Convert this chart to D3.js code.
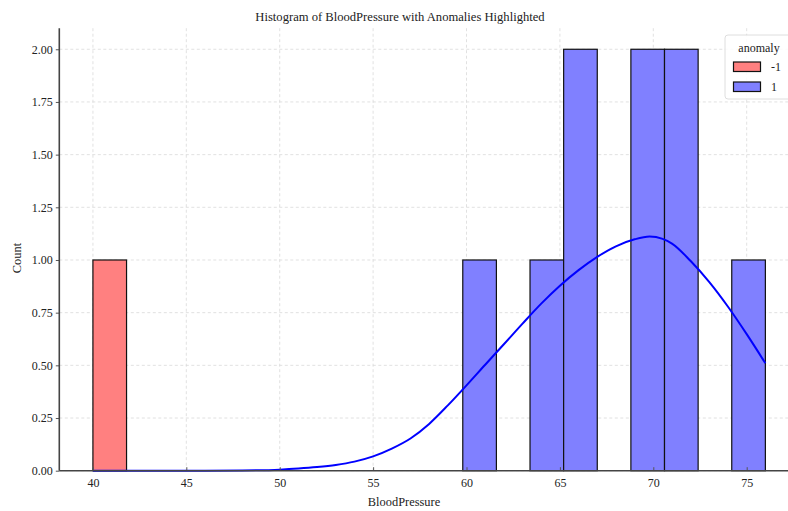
<!DOCTYPE html>
<html>
<head>
<meta charset="utf-8">
<script src="https://cdn.jsdelivr.net/npm/d3@7"></script>
<style>
  html, body { margin: 0; padding: 0; background: #fff; }
  svg { display: block; font-family: "Liberation Serif", "DejaVu Serif", serif; }
</style>
</head>
<body>
<svg id="chart" width="788" height="511"></svg>
<script>
// ---- data ----
const binWidth = 1.8;
const redBinStarts = [40];
const redCounts = [1];
const blueBinStarts = [59.8, 63.4, 65.2, 68.8, 70.6, 74.2];
const blueCounts = [1, 1, 2, 2, 2, 1];
const legendLabels = ["-1", "1"];
const xTicks = [40, 45, 50, 55, 60, 65, 70, 75];
const yTicks = [0, 0.25, 0.5, 0.75, 1.0, 1.25, 1.5, 1.75, 2.0];
// KDE curve for anomaly = 1
const kdeX = [40, 44, 46, 48, 50, 51, 52, 53, 54, 55, 56, 57, 58, 59, 60, 61, 62, 63, 64, 65, 66, 67, 68, 69, 69.8, 70.5, 71, 72, 73, 74, 75, 76];
const kdeY = [0, 0, 0, 0.001, 0.005, 0.010, 0.017, 0.027, 0.043, 0.068, 0.105, 0.153, 0.222, 0.310, 0.405, 0.503, 0.600, 0.698, 0.793, 0.878, 0.952, 1.015, 1.065, 1.098, 1.111, 1.100, 1.078, 0.995, 0.895, 0.778, 0.648, 0.510];

// ---- layout ----
const svg = d3.select("#chart");
const pLeft = 59.3, pRight = 799, pTop = 28.2, pBottom = 470.7;
const x = d3.scaleLinear().domain([38.2, 77.8]).range([pLeft, pRight]);
const y = d3.scaleLinear().domain([0, 2.1]).range([pBottom, pTop]);

// grid
const grid = svg.append("g").attr("stroke", "#d9d9d9").attr("stroke-width", 0.8).attr("stroke-dasharray", "3,2.5");
grid.selectAll("line.gx").data(xTicks).join("line").attr("class", "gx")
  .attr("x1", d => x(d)).attr("x2", d => x(d)).attr("y1", pTop).attr("y2", pBottom);
grid.selectAll("line.gy").data(yTicks).join("line").attr("class", "gy")
  .attr("x1", pLeft).attr("x2", pRight).attr("y1", d => y(d)).attr("y2", d => y(d));

// bars
const redData = redBinStarts.map((s, i) => ({x0: s, x1: s + binWidth, c: redCounts[i]}));
const blueData = blueBinStarts.map((s, i) => ({x0: s, x1: s + binWidth, c: blueCounts[i]}));
function drawBars(data, fill) {
  svg.append("g").selectAll("rect").data(data).join("rect")
    .attr("x", d => x(d.x0)).attr("width", d => x(d.x1) - x(d.x0))
    .attr("y", d => y(d.c)).attr("height", d => y(0) - y(d.c))
    .attr("fill", fill).attr("stroke", "#111").attr("stroke-width", 1.2);
}
drawBars(redData, "#ff8080");
drawBars(blueData, "#8080ff");

// kde line
const line = d3.line().x(d => x(d[0])).y(d => y(d[1])).curve(d3.curveMonotoneX);
svg.append("path").datum(kdeX.map((v, i) => [v, kdeY[i]]))
  .attr("d", line).attr("fill", "none").attr("stroke", "#0000ff").attr("stroke-width", 2);

// axes
const xAxis = d3.axisBottom(x).tickValues(xTicks).tickFormat(d3.format("d")).tickSizeInner(-3.5).tickSizeOuter(0).tickPadding(8);
const gx = svg.append("g").attr("transform", `translate(0,${pBottom})`).call(xAxis);
gx.select(".domain").remove();
gx.selectAll(".tick line").attr("stroke", "#555").attr("stroke-width", 1);
gx.selectAll(".tick text").attr("font-size", 12).attr("fill", "#222").attr("font-family", "Liberation Serif");

const yAxis = d3.axisLeft(y).tickValues(yTicks).tickFormat(d3.format(".2f")).tickSizeInner(3.5).tickSizeOuter(0).tickPadding(3);
const gy = svg.append("g").attr("transform", `translate(${pLeft},0)`).call(yAxis);
gy.select(".domain").remove();
gy.selectAll(".tick line").attr("stroke", "#555").attr("stroke-width", 1);
gy.selectAll(".tick text").attr("font-size", 12).attr("fill", "#222").attr("font-family", "Liberation Serif");

// spines
svg.append("line").attr("x1", pLeft).attr("x2", pLeft).attr("y1", pTop).attr("y2", pBottom)
  .attr("stroke", "#444").attr("stroke-width", 1.6);
svg.append("line").attr("x1", pLeft).attr("x2", pRight).attr("y1", pBottom).attr("y2", pBottom)
  .attr("stroke", "#444").attr("stroke-width", 1.6);

// titles
svg.append("text").attr("x", 400).attr("y", 21).attr("text-anchor", "middle")
  .attr("font-size", 12.6).attr("fill", "#222").text("Histogram of BloodPressure with Anomalies Highlighted");
svg.append("text").attr("x", 404).attr("y", 506).attr("text-anchor", "middle")
  .attr("font-size", 12.4).attr("fill", "#222").text("BloodPressure");
svg.append("text").attr("transform", "translate(21,258) rotate(-90)").attr("text-anchor", "middle")
  .attr("font-size", 12.4).attr("fill", "#222").text("Count");

// legend
const lg = svg.append("g");
lg.append("rect").attr("x", 725).attr("y", 35).attr("width", 80).attr("height", 64).attr("rx", 3)
  .attr("fill", "#fff").attr("fill-opacity", 0.85).attr("stroke", "#d6d6d6").attr("stroke-width", 0.8);
lg.append("text").attr("x", 759).attr("y", 52).attr("text-anchor", "middle").attr("font-size", 12)
  .attr("fill", "#222").text("anomaly");
const legendColors = ["#ff8080", "#8080ff"];
legendLabels.forEach((lab, i) => {
  lg.append("rect").attr("x", 733.5).attr("y", 62 + i * 20).attr("width", 27).attr("height", 9.5)
    .attr("fill", legendColors[i]).attr("stroke", "#111").attr("stroke-width", 1.2);
  lg.append("text").attr("x", 771).attr("y", 71 + i * 20).attr("font-size", 12).attr("fill", "#222").text(lab);
});
</script>
</body>
</html>
